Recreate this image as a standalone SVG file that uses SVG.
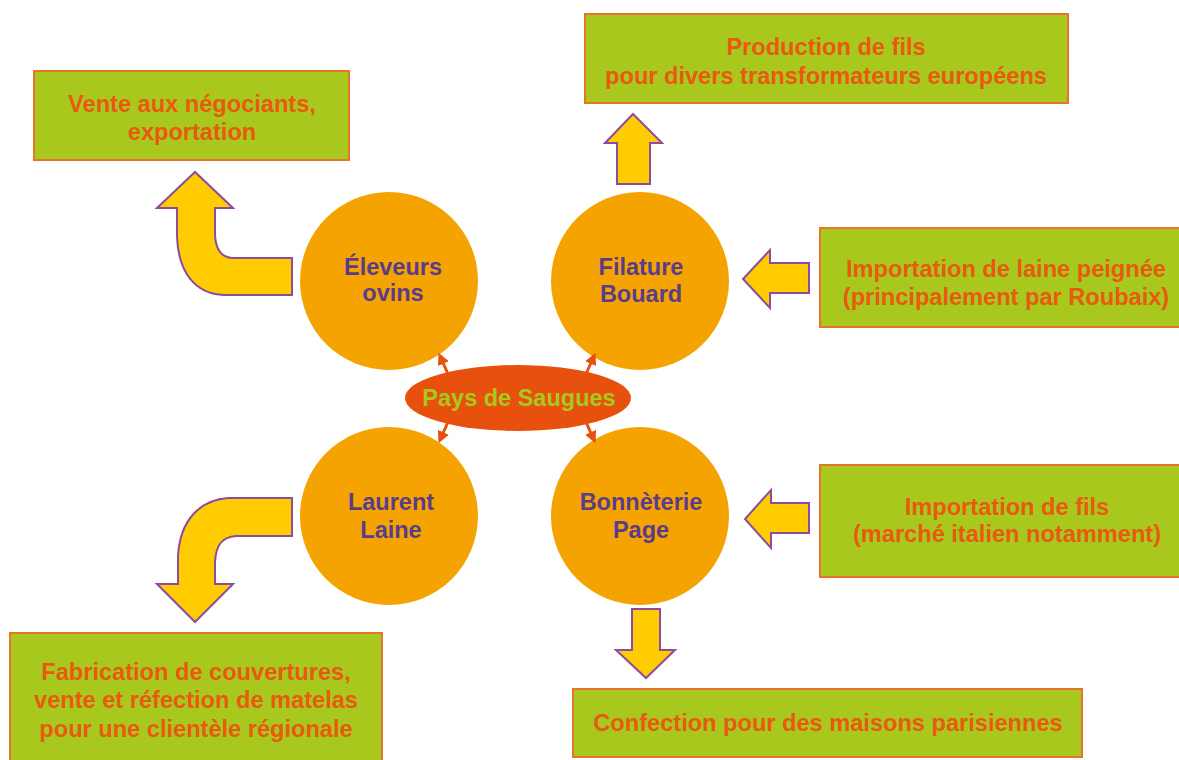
<svg xmlns="http://www.w3.org/2000/svg" width="1179" height="760" viewBox="0 0 1179 760">
<style>
.box{fill:#A9C81E;stroke:#E8732A;stroke-width:2}
.bt{font-family:"Liberation Sans",Arial,sans-serif;font-weight:bold;font-size:23.6px;fill:#E85A10;text-anchor:middle}
.circ{fill:#F5A300}
.ct{font-family:"Liberation Sans",Arial,sans-serif;font-weight:bold;font-size:23.5px;fill:#5A3D8A;text-anchor:middle}
.arr{fill:#FFCC00;stroke:#8E4C9E;stroke-width:2;stroke-linejoin:miter}
.sm{stroke:#E8500E;stroke-width:3;fill:none}
</style>
<defs>
<marker id="ah" viewBox="0 0 10 10" refX="7" refY="5" markerWidth="4" markerHeight="4" orient="auto">
<path d="M0,0 L10,5 L0,10 Z" fill="#E8500E"/>
</marker>
</defs>
<rect width="1179" height="760" fill="#FFFFFF"/>

<g id="box-vente">
<rect class="box" x="34" y="71" width="315" height="89"/>
<text class="bt" x="192" y="112">Vente aux négociants,</text>
<text class="bt" x="192" y="140">exportation</text>
</g>
<g id="box-production">
<rect class="box" x="585" y="14" width="483" height="89"/>
<text class="bt" x="826" y="55">Production de fils</text>
<text class="bt" x="826" y="84">pour divers transformateurs européens</text>
</g>
<g id="box-import-laine">
<rect class="box" x="820" y="228" width="372" height="99"/>
<text class="bt" x="1006" y="277">Importation de laine peignée</text>
<text class="bt" x="1006" y="305">(principalement par Roubaix)</text>
</g>
<g id="box-import-fils">
<rect class="box" x="820" y="465" width="372" height="112"/>
<text class="bt" x="1007" y="515">Importation de fils</text>
<text class="bt" x="1007" y="542">(marché italien notamment)</text>
</g>
<g id="box-fabrication">
<rect class="box" x="10" y="633" width="372" height="140"/>
<text class="bt" x="196" y="680">Fabrication de couvertures,</text>
<text class="bt" x="196" y="708">vente et réfection de matelas</text>
<text class="bt" x="196" y="737">pour une clientèle régionale</text>
</g>
<g id="box-confection">
<rect class="box" x="573" y="689" width="509" height="68"/>
<text class="bt" x="828" y="731">Confection pour des maisons parisiennes</text>
</g>

<g id="node-eleveurs">
<circle class="circ" cx="389" cy="281" r="89"/>
<text class="ct" x="393" y="275">Éleveurs</text>
<text class="ct" x="393" y="301">ovins</text>
</g>
<g id="node-filature">
<circle class="circ" cx="640" cy="281" r="89"/>
<text class="ct" x="641" y="275">Filature</text>
<text class="ct" x="641" y="302">Bouard</text>
</g>
<g id="node-laurent">
<circle class="circ" cx="389" cy="516" r="89"/>
<text class="ct" x="391" y="510">Laurent</text>
<text class="ct" x="391" y="538">Laine</text>
</g>
<g id="node-bonneterie">
<circle class="circ" cx="640" cy="516" r="89"/>
<text class="ct" x="641" y="510">Bonnèterie</text>
<text class="ct" x="641" y="538">Page</text>
</g>

<g id="connectors">
<path class="arr" d="M292,258 L232,258 C220,257 215,248 215,232 L215,208 L233,208 L195,172 L157,208 L177,208 L177,236 C178,272 195,294 224,295 L292,295 Z"/>
<path class="arr" d="M292,498 L228,498 C200,500 180,520 178,556 L178,584 L157,584 L195,622 L233,584 L215,584 L215,562 C216,545 222,537 236,536 L292,536 Z"/>
<path class="arr" d="M617,184 L617,143 L605,143 L633,114 L662,143 L650,143 L650,184 Z"/>
<path class="arr" d="M809,263 L770,263 L770,250 L743,279 L770,308 L770,293 L809,293 Z"/>
<path class="arr" d="M809,503 L771,503 L771,490 L745,519 L771,548 L771,533 L809,533 Z"/>
<path class="arr" d="M632,609 L632,650 L616,650 L646,678 L675,650 L660,650 L660,609 Z"/>
<line class="sm" x1="448" y1="374" x2="440" y2="356" marker-end="url(#ah)"/>
<line class="sm" x1="586" y1="374" x2="594" y2="356" marker-end="url(#ah)"/>
<line class="sm" x1="448" y1="422" x2="440" y2="440" marker-end="url(#ah)"/>
<line class="sm" x1="586" y1="422" x2="594" y2="440" marker-end="url(#ah)"/>
</g>

<g id="node-pays">
<ellipse cx="518" cy="398" rx="113" ry="33" fill="#E8500E"/>
<text x="519" y="406" font-family="'Liberation Sans',Arial,sans-serif" font-weight="bold" font-size="23.5px" fill="#A9C81E" text-anchor="middle">Pays de Saugues</text>
</g>
</svg>
